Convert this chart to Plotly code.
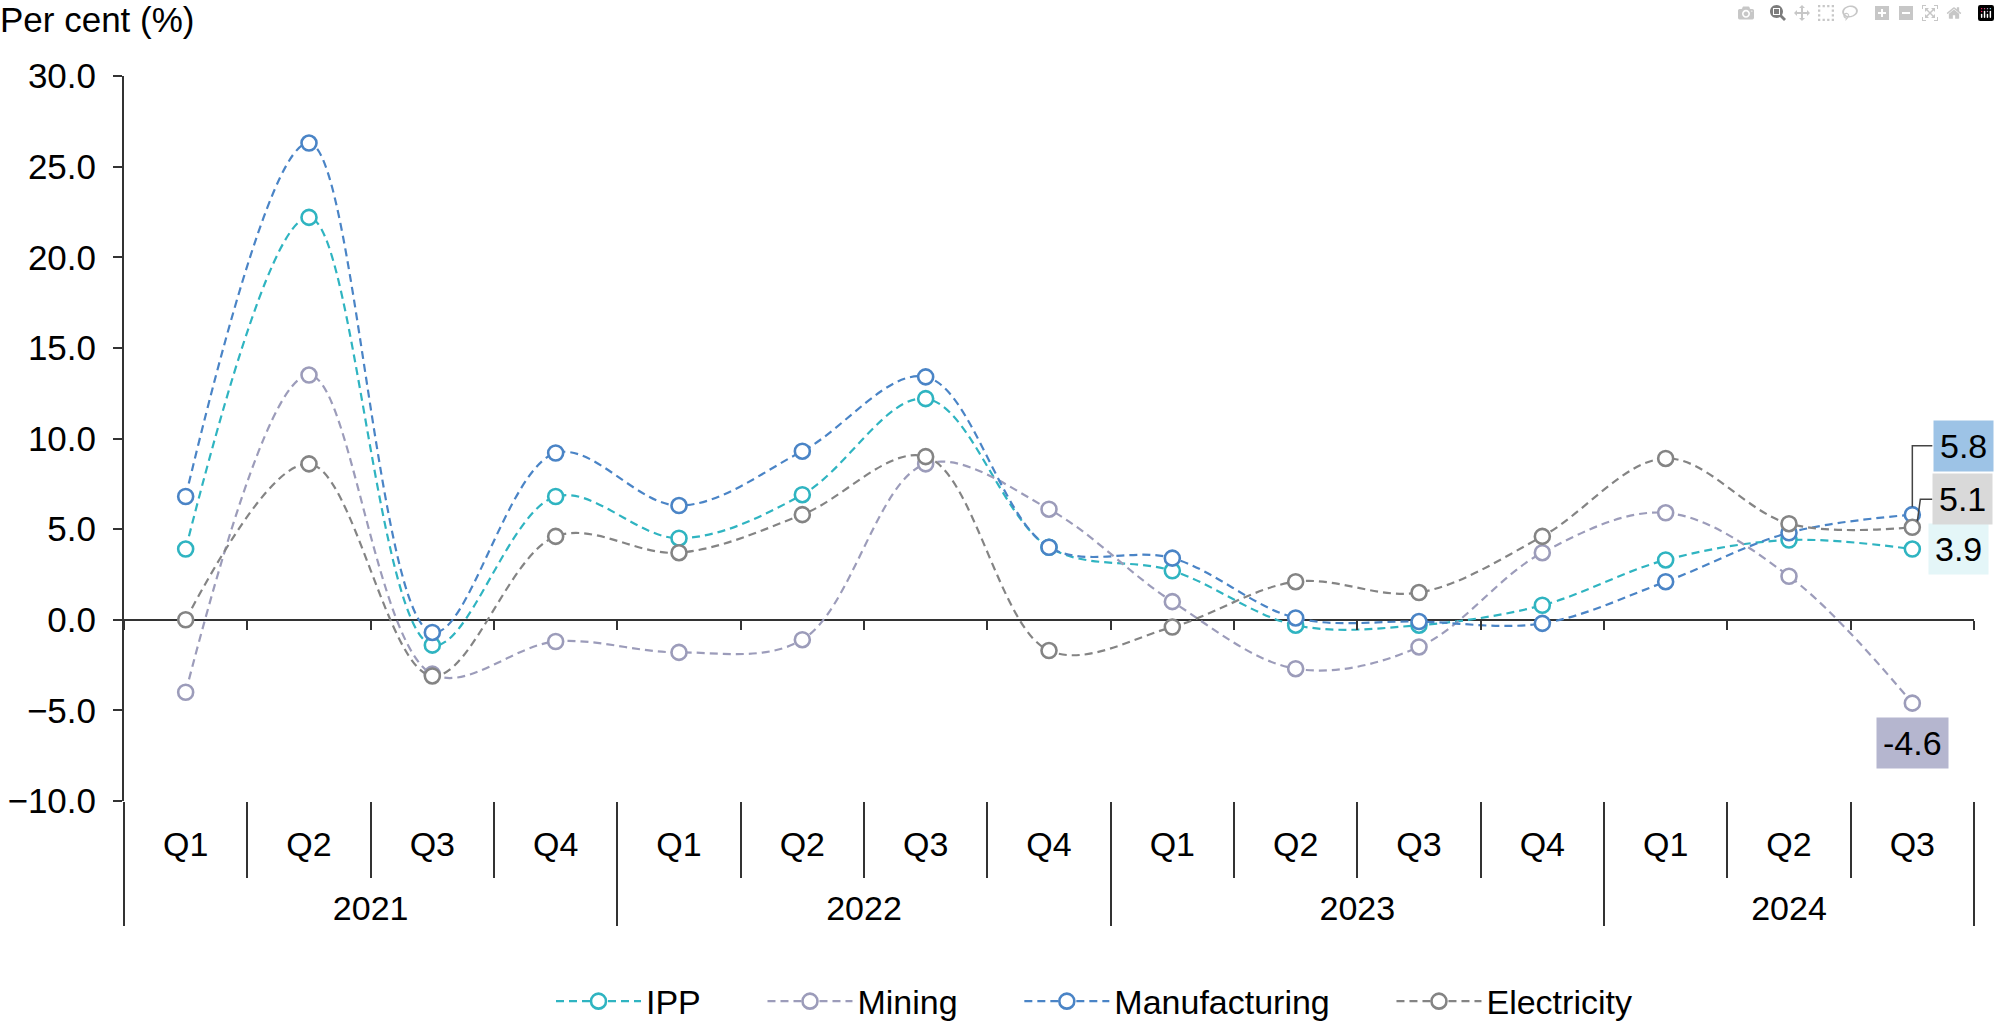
import plotly.graph_objects as go

# ---- data ----
years = ["2021"] * 4 + ["2022"] * 4 + ["2023"] * 4 + ["2024"] * 3
quarters = ["Q1", "Q2", "Q3", "Q4"] * 3 + ["Q1", "Q2", "Q3"]

ipp = [3.9, 22.2, -1.4, 6.8, 4.5, 6.9, 12.2, 4.0, 2.7, -0.3, -0.3, 0.8, 3.3, 4.4, 3.9]
mining = [-4.0, 13.5, -3.0, -1.2, -1.8, -1.1, 8.6, 6.1, 1.0, -2.7, -1.5, 3.7, 5.9, 2.4, -4.6]
manufacturing = [6.8, 26.3, -0.7, 9.2, 6.3, 9.3, 13.4, 4.0, 3.4, 0.1, -0.1, -0.2, 2.1, 4.8, 5.8]
electricity = [0.0, 8.6, -3.1, 4.6, 3.7, 5.8, 9.0, -1.7, -0.4, 2.1, 1.5, 4.6, 8.9, 5.3, 5.1]

series_names = ["IPP", "Mining", "Manufacturing", "Electricity"]
series_values = [ipp, mining, manufacturing, electricity]
series_colors = ["#2fb4c1", "#9c9cba", "#4a84c6", "#848484"]
label_fills = ["#e4f6f8", "#b5b6cf", "#9dc3e6", "#d9d9d9"]

FONT = "Liberation Sans, Arial, sans-serif"
AX = "#333333"
FS = 34

n = len(quarters)
idx = list(range(n))
rng = [-0.5, n - 0.5]
bounds_all = [i - 0.5 for i in range(n + 1)]
bounds_inner = [i + 0.5 for i in range(n - 1)]

# year groups derived from the category list
year_names, year_centers, year_bounds = [], [], [-0.5]
start = 0
for i in range(1, n + 1):
    if i == n or years[i] != years[start]:
        year_names.append(years[start])
        year_centers.append((start + i - 1) / 2)
        year_bounds.append(i - 0.5)
        start = i

fig = go.Figure()
pad = "\u00a0" * 6
for k, (name, vals, col) in enumerate(zip(series_names, series_values, series_colors)):
    fig.add_trace(go.Scatter(
        x=idx, y=vals, name=name + (pad if k < len(series_names) - 1 else ""),
        mode="lines+markers",
        line=dict(color=col, width=2.2, dash="8px,5px", shape="spline", smoothing=1.0),
        marker=dict(symbol="circle", size=15, color="white",
                    line=dict(color=col, width=2.6)),
        cliponaxis=False,
    ))

# helper (invisible) traces carrying the extra axes
for ax_name in ["x2", "x3", "x4", "x5"]:
    fig.add_trace(go.Scatter(x=idx, y=ipp, xaxis=ax_name, mode="none",
                             showlegend=False, hoverinfo="skip"))

# ---- end-of-series data labels ----
last = n - 1
label_pos = {  # (xshift, yshift) of the box centre from the last marker, px
    "Manufacturing": (51, 69),
    "Electricity": (50, 28),
    "IPP": (46, 0),
    "Mining": (0, -40),
}
leader_paths = {
    "Manufacturing": "M0,8 V69 H20",
    "Electricity": "M5,6 L8,28 H20",
}
for name, vals, fill in zip(series_names, series_values, label_fills):
    xs, ys = label_pos[name]
    if name in leader_paths:
        fig.add_shape(type="path", xref="x", yref="y",
                      xsizemode="pixel", ysizemode="pixel",
                      xanchor=last, yanchor=vals[last],
                      path=leader_paths[name],
                      line=dict(color="#444444", width=1.5))
    fig.add_annotation(x=last, y=vals[last], xref="x", yref="y",
                       text=f"{vals[last]:.1f}", bgcolor=fill, borderpad=6,
                       showarrow=False, xshift=xs, yshift=ys,
                       font=dict(family=FONT, size=FS, color="black"))

common_x = dict(overlaying="x", range=rng, tickmode="array", automargin=False,
                showline=False, showgrid=False, zeroline=False)

fig.update_layout(
    width=2000, height=1022,
    margin=dict(l=124, r=26, t=76, b=221, autoexpand=False),
    plot_bgcolor="white", paper_bgcolor="white",
    font=dict(family=FONT, size=FS, color="black"),
    title=dict(text="Per cent (%)", x=0.0, xref="container", xanchor="left",
               y=0.981, yref="container", yanchor="middle",
               font=dict(family=FONT, size=FS + 1, color="black")),
    showlegend=True,
    legend=dict(orientation="h", xref="container", x=0.547, xanchor="center",
                yref="container", y=0.02, yanchor="middle",
                font=dict(family=FONT, size=FS, color="black"),
                itemwidth=85),
    # quarter labels
    xaxis=dict(range=rng, tickmode="array", tickvals=idx, ticktext=quarters,
               showline=False, ticks="", showgrid=False, zeroline=False,
               automargin=False,
               tickfont=dict(family=FONT, size=FS, color="black"),
               ticklabelstandoff=20),
    # ticks on the zero line
    xaxis2=dict(**common_x, anchor="free", position=0.25, tickvals=bounds_all,
                ticks="outside", ticklen=9, tickwidth=2, tickcolor=AX,
                showticklabels=False),
    # quarter separators
    xaxis3=dict(**common_x, anchor="y", side="bottom", tickvals=bounds_inner,
                ticks="outside", ticklen=76, tickwidth=2, tickcolor=AX,
                showticklabels=False),
    # year labels
    xaxis4=dict(**common_x, anchor="y", side="bottom", tickvals=year_centers,
                ticktext=year_names, ticks="", ticklabelstandoff=84,
                tickfont=dict(family=FONT, size=FS, color="black")),
    # year dividers
    xaxis5=dict(**common_x, anchor="y", side="bottom", tickvals=year_bounds,
                ticks="outside", ticklen=124, tickwidth=2, tickcolor=AX,
                showticklabels=False),
    yaxis=dict(range=[-10, 30], tickmode="array",
               tickvals=[-10, -5, 0, 5, 10, 15, 20, 25, 30], tickformat=".1f",
               showline=True, linecolor=AX, linewidth=2, automargin=False,
               ticks="outside", ticklen=9, tickwidth=2, tickcolor=AX,
               showgrid=False, zeroline=True, zerolinecolor=AX, zerolinewidth=2,
               ticklabelstandoff=10,
               tickfont=dict(family=FONT, size=FS + 1, color="black")),
)

fig.write_html("out.html", post_script="document.body.style.margin='0';")
